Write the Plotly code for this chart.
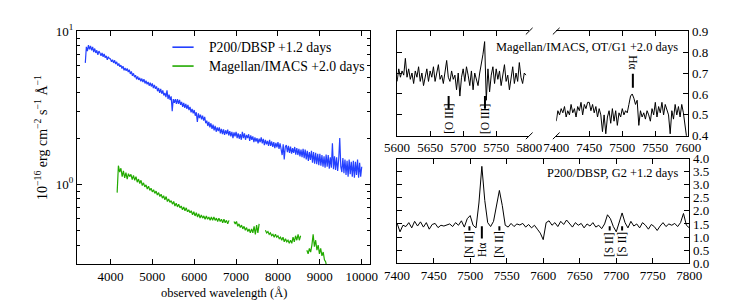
import numpy as np
import plotly.graph_objects as go

W, H = 730, 300

# ---------------- data ----------------
# Left panel: broad-band spectra (x in Angstrom, flux in 1e-16 erg/cm2/s/A)
dbsp_start, dbsp_step = 3400, 25
dbsp_flux = [
    6.2, 7.9, 7.4, 8.1, 7.6, 8.0, 7.5, 7.9,
    7.3, 7.7, 7.2, 7.5, 7.0, 7.4, 7.2, 6.9,
    7.2, 6.8, 7.1, 6.7, 6.9, 6.5, 6.8, 6.6,
    6.6, 6.3, 6.5, 6.2, 6.45, 6.1, 6.3, 5.95,
    6.15, 5.85, 6.0, 5.7, 5.9, 5.55, 5.75, 5.5,
    5.7, 5.4, 5.6, 5.25, 5.45, 5.1, 5.3, 5.0,
    5.15, 4.85, 5.05, 4.8, 4.95, 4.7, 4.9, 4.65,
    4.85, 4.55, 4.75, 4.5, 4.65, 4.4, 4.6, 4.35,
    4.55, 4.25, 4.45, 4.2, 4.35, 4.05, 4.25, 3.95,
    4.2, 3.9, 4.1, 3.8, 3.95, 3.7, 4.1, 3.6,
    3.85, 3.55, 3.75, 3.0, 3.6, 3.4, 3.6, 3.35,
    3.6, 3.35, 3.55, 3.3, 3.45, 3.2, 3.4, 3.15,
    3.35, 3.1, 3.3, 3.05, 3.2, 2.95, 3.1, 2.9,
    3.05, 2.8, 2.95, 2.55, 2.9, 2.7, 2.85, 2.65,
    2.8, 2.6, 2.75, 2.5, 2.6, 2.4, 2.55, 2.35,
    2.5, 2.3, 2.45, 2.25, 2.4, 2.2, 2.35, 2.22,
    2.35, 2.15, 2.3, 2.12, 2.28, 2.1, 2.25, 2.12,
    2.27, 2.08, 2.22, 2.05, 2.2, 2.0, 2.18, 2.05,
    2.2, 2.0, 2.15, 1.98, 2.12, 1.95, 2.2, 2.0,
    2.15, 1.95, 2.1, 2.0, 2.12, 1.92, 2.08, 1.95,
    2.05, 1.88, 2.02, 1.9, 2.0, 1.85, 1.98, 1.88,
    2.02, 1.85, 1.98, 1.8, 1.95, 1.82, 1.92, 1.78,
    1.95, 1.78, 1.9, 1.75, 1.88, 1.72, 1.86, 1.74,
    1.88, 1.7, 1.85, 1.68, 1.55, 1.82, 1.45, 1.75,
    1.8, 1.62, 1.78, 1.6, 1.76, 1.58, 1.72, 1.6,
    1.75, 1.56, 1.72, 1.55, 1.7, 1.52, 1.68, 1.5,
    1.7, 1.48, 1.68, 1.45, 1.65, 1.42, 1.62, 1.44,
    1.65, 1.38, 1.62, 1.36, 1.6, 1.35, 1.58, 1.33,
    1.58, 1.32, 1.55, 1.3, 1.52, 1.28, 1.56, 1.3,
    1.55, 1.26, 1.5, 1.28, 1.85, 1.25, 1.52, 1.24,
    1.5, 1.22, 1.45, 2.0, 1.3, 1.2, 1.48, 1.18,
    1.45, 1.15, 1.42, 1.12, 1.45, 1.16, 1.4, 1.12,
    1.42, 1.1, 1.4, 1.15, 1.45, 1.1, 1.38, 1.12,
    1.3,
]
imacs_start, imacs_step = 4160, 30
imacs_flux = [
    0.88, 1.32, 1.20, 1.27, 1.12, 1.22, 1.10, 1.19, 1.08, 1.17,
    1.12, 1.16, 1.07, 1.14, 1.06, 1.12, 1.03, 1.08, 1.01, 1.06,
    0.98, 1.02, 0.96, 0.99, 0.93, 0.97, 0.91, 0.94, 0.89, 0.92,
    0.87, 0.90, 0.85, 0.88, 0.83, 0.86, 0.81, 0.84, 0.79, 0.83,
    0.77, 0.80, 0.76, 0.78, 0.74, 0.77, 0.72, 0.75, 0.71, 0.74,
    0.70, 0.72, 0.68, 0.71, 0.67, 0.70, 0.66, 0.68, 0.65, 0.67,
    0.63, 0.66, 0.62, 0.65, 0.61, 0.64, 0.60, 0.63, 0.60, 0.62,
    0.59, 0.62, 0.59, 0.61, 0.58, 0.61, 0.58, 0.61, 0.58, 0.60,
    0.57, 0.60, 0.57, 0.59, 0.56, 0.59, 0.56, 0.58, 0.55, 0.58,
    None, None, None, 0.57, 0.55, 0.57, 0.53, 0.55, 0.52, 0.54,
    0.51, 0.53, 0.50, 0.52, 0.49, 0.51, 0.48, 0.51, 0.48, 0.53,
    0.47, 0.54, 0.48, 0.55, None, None, None, None, 0.50, 0.48,
    0.49, 0.47, 0.48, 0.46, 0.47, 0.45, 0.47, 0.45, 0.46, 0.44,
    0.45, 0.43, 0.45, 0.42, 0.44, 0.42, 0.43, 0.41, 0.43, 0.41,
    0.45, 0.42, 0.46, 0.43, 0.47, 0.43, 0.46, None, None, None,
    None, 0.37, 0.35, 0.38, 0.36, 0.40, 0.47, 0.39, 0.43, 0.37,
    0.40, 0.35, 0.38, 0.34, 0.36, 0.32, 0.31, 0.28, 0.25,
]

# Top right: Magellan/IMACS OT/G1 zoom-ins
g1_blue_start, g1_step = 5600, 2.5
g1_blue_flux = [
    0.66, 0.72, 0.68, 0.71, 0.69, 0.77, 0.68, 0.72, 0.67, 0.70,
    0.65, 0.71, 0.68, 0.73, 0.66, 0.70, 0.64, 0.69, 0.72, 0.66,
    0.71, 0.68, 0.73, 0.66, 0.70, 0.74, 0.67, 0.69, 0.65, 0.70,
    0.76, 0.68, 0.66, 0.71, 0.67, 0.69, 0.62, 0.70, 0.59, 0.68,
    0.72, 0.66, 0.73, 0.69, 0.64, 0.71, 0.62, 0.70, 0.67, 0.64,
    0.70, 0.74, 0.79, 0.85, 0.57, 0.72, 0.61, 0.69, 0.73, 0.65,
    0.72, 0.67, 0.71, 0.64, 0.70, 0.74, 0.66, 0.69, 0.62, 0.68,
    0.73, 0.65, 0.70, 0.66, 0.75, 0.68, 0.65, 0.70, 0.69,
]
g1_red_start = 7400
g1_red_flux = [
    0.47, 0.52, 0.50, 0.53, 0.51, 0.54, 0.49, 0.52, 0.50, 0.55,
    0.51, 0.53, 0.49, 0.54, 0.52, 0.56, 0.50, 0.55, 0.53, 0.56,
    0.56, 0.52, 0.55, 0.51, 0.54, 0.49, 0.53, 0.50, 0.42, 0.50,
    0.41, 0.49, 0.52, 0.46, 0.53, 0.47, 0.52, 0.45, 0.51, 0.49,
    0.53, 0.50, 0.52, 0.51, 0.55, 0.59, 0.60, 0.58, 0.55, 0.57,
    0.45, 0.52, 0.49, 0.51, 0.48, 0.52, 0.50, 0.47, 0.53, 0.50,
    0.56, 0.49, 0.54, 0.51, 0.56, 0.50, 0.55, 0.52, 0.50, 0.41,
    0.52, 0.48, 0.55, 0.50, 0.54, 0.49, 0.55, 0.51, 0.46, 0.39,
]

# Bottom right: P200/DBSP G2
g2_start, g2_step = 7400, 4
g2_flux = [
    1.52, 1.20, 1.45, 1.40, 1.55, 1.35, 1.60, 1.42, 1.58, 1.38,
    1.55, 1.30, 1.48, 1.52, 1.36, 1.45, 1.42, 1.46, 1.50, 1.40,
    1.55, 1.45, 1.62, 1.38, 1.70, 1.82, 1.45, 1.35, 2.30, 3.70,
    2.40, 1.55, 1.40, 1.60, 2.20, 2.78, 2.20, 1.45, 1.38, 1.52,
    1.40, 1.50, 1.46, 1.52, 1.38, 1.48, 1.35, 1.45, 1.30, 1.15,
    0.90, 1.55, 1.62, 1.45, 1.55, 1.40, 1.60, 1.48, 1.65, 1.52,
    1.38, 1.55, 1.45, 1.52, 1.35, 1.50, 1.42, 1.55, 1.38, 1.45,
    1.32, 1.50, 1.85, 1.70, 1.40, 1.20, 1.55, 1.92, 1.55, 1.35,
    1.60, 1.42, 1.50, 1.35, 1.55, 1.45, 1.30, 1.48, 1.40, 1.25,
    1.42, 1.55, 1.40, 1.50, 1.45, 1.52, 1.40, 1.55, 1.90, 1.45,
    1.35,
]

# Line identifications
oiii_waves = [5678, 5733]
ha_g1_wave = 7516
nii_waves = [7499, 7540]
ha_g2_wave = 7516
sii_waves = [7691, 7708]

left_xticks = [4000, 5000, 6000, 7000, 8000, 9000, 10000]
legend_names = ["P200/DBSP +1.2 days", "Magellan/IMACS +2.0 days"]
blue, green = "#2440ff", "#22aa00"
FONT = "Liberation Serif"


def grid(start, step, n):
    return start + step * np.arange(n)


def px_x(p):
    return p / W


def px_y(p):
    return 1 - p / H


fig = go.Figure()
fig.add_trace(go.Scatter(x=grid(dbsp_start, dbsp_step, len(dbsp_flux)), y=dbsp_flux,
                         mode="lines", line=dict(color=blue, width=1.2), name=legend_names[0],
                         xaxis="x", yaxis="y"))
fig.add_trace(go.Scatter(x=grid(imacs_start, imacs_step, len(imacs_flux)), y=imacs_flux,
                         mode="lines", line=dict(color=green, width=1.2), name=legend_names[1],
                         xaxis="x", yaxis="y", connectgaps=False))
fig.add_trace(go.Scatter(x=grid(g1_blue_start, g1_step, len(g1_blue_flux)), y=g1_blue_flux,
                         mode="lines", line=dict(color="black", width=1),
                         xaxis="x2", yaxis="y2"))
fig.add_trace(go.Scatter(x=grid(g1_red_start, g1_step, len(g1_red_flux)), y=g1_red_flux,
                         mode="lines", line=dict(color="black", width=1),
                         xaxis="x3", yaxis="y3"))
fig.add_trace(go.Scatter(x=grid(g2_start, g2_step, len(g2_flux)), y=g2_flux,
                         mode="lines", line=dict(color="black", width=1),
                         xaxis="x4", yaxis="y4"))

tickfont = dict(family=FONT, size=13, color="black")
common = dict(showgrid=False, zeroline=False, showline=True, linecolor="black", linewidth=1,
              ticks="inside", tickcolor="black", ticklen=5, tickwidth=1, tickfont=tickfont)

minor_vals = [0.3, 0.4, 0.5, 0.6, 0.7, 0.8, 0.9, 2, 3, 4, 5, 6, 7, 8, 9]

fig.update_layout(
    width=W, height=H, margin=dict(l=0, r=0, t=0, b=0),
    paper_bgcolor="white", plot_bgcolor="white",
    font=dict(family=FONT, size=13, color="black"),
    showlegend=False,
    xaxis=dict(domain=[px_x(58), px_x(362)], range=[3200, 10200], anchor="y",
               tickvals=left_xticks, ticktext=[str(v) for v in left_xticks], mirror="ticks", **common),
    yaxis=dict(domain=[px_y(262), px_y(15)], type="log", range=[np.log10(0.3), 1], anchor="x",
               tickvals=[1, 10], ticktext=["10<sup>0</sup>", "10<sup>1</sup>"], mirror="ticks",
               minor=dict(tickvals=minor_vals, ticks="inside", ticklen=3, tickcolor="black"),
               **common),
    xaxis2=dict(domain=[px_x(390), px_x(527)], range=[5600, 5800], anchor="y2",
                tickvals=[5600, 5650, 5700, 5750, 5800], mirror="ticks", **common),
    yaxis2=dict(domain=[px_y(126), px_y(15)], range=[0.4, 0.9], anchor="x2",
                tickvals=[0.4, 0.5, 0.6, 0.7, 0.8, 0.9], showticklabels=False, mirror=False, **common),
    xaxis3=dict(domain=[px_x(555), px_x(692)], range=[7400, 7600], anchor="y3",
                tickvals=[7400, 7450, 7500, 7550, 7600], mirror="ticks", **common),
    yaxis3=dict(domain=[px_y(126), px_y(15)], range=[0.4, 0.9], anchor="x3", side="right",
                tickvals=[0.4, 0.5, 0.6, 0.7, 0.8, 0.9], tickformat=".1f", mirror=False, **common),
    xaxis4=dict(domain=[px_x(390), px_x(693)], range=[7400, 7800], anchor="y4",
                tickvals=[7400, 7450, 7500, 7550, 7600, 7650, 7700, 7750, 7800], mirror="ticks", **common),
    yaxis4=dict(domain=[px_y(261), px_y(150)], range=[0, 4], anchor="x4", side="right",
                dtick=0.5, tickformat=".1f", mirror="ticks", **common),
)

shapes = []
# break marks on the top-right panel
for (bx, by) in [(527, 15), (527, 126), (555, 15), (555, 126)]:
    shapes.append(dict(type="line", xref="paper", yref="paper",
                       x0=px_x(bx - 3.5), y0=px_y(by + 3.5), x1=px_x(bx + 3.5), y1=px_y(by - 3.5),
                       line=dict(color="black", width=1)))
# legend keys
for (ly, col) in [(32, blue), (52, green)]:
    shapes.append(dict(type="line", xref="paper", yref="paper",
                       x0=px_x(157), x1=px_x(179), y0=px_y(ly), y1=px_y(ly),
                       line=dict(color=col, width=1.6)))
# line markers
for w in oiii_waves:
    shapes.append(dict(type="line", xref="x2", yref="y2", x0=w, x1=w, y0=0.53, y1=0.59,
                       line=dict(color="black", width=2)))
shapes.append(dict(type="line", xref="x3", yref="y3", x0=ha_g1_wave, x1=ha_g1_wave, y0=0.63, y1=0.697,
                   line=dict(color="black", width=2)))
for w in nii_waves + sii_waves:
    shapes.append(dict(type="line", xref="x4", yref="y4", x0=w, x1=w, y0=1.25, y1=1.41,
                       line=dict(color="black", width=2)))
shapes.append(dict(type="line", xref="x4", yref="y4", x0=ha_g2_wave, x1=ha_g2_wave, y0=0.94, y1=1.41,
                   line=dict(color="black", width=2)))
fig.update_layout(shapes=shapes)

ann = []
for (ly, name) in zip([32, 52], legend_names):
    ann.append(dict(x=px_x(193), y=px_y(ly), xref="paper", yref="paper", xanchor="left",
                    yanchor="middle", text=name, showarrow=False,
                    font=dict(family=FONT, size=13.7, color="black")))
lab = dict(showarrow=False, font=dict(family=FONT, size=11.5, color="black"))
for w in oiii_waves:
    ann.append(dict(x=w, y=0.48, xref="x2", yref="y2", text="[O III]", textangle=-90, **lab))
ann.append(dict(x=ha_g1_wave, y=0.752, xref="x3", yref="y3", text="Hα", textangle=90, **lab))
for w in nii_waves:
    ann.append(dict(x=w, y=0.72, xref="x4", yref="y4", text="[N II]", textangle=-90, **lab))
ann.append(dict(x=ha_g2_wave, y=0.5, xref="x4", yref="y4", text="Hα", textangle=-90, **lab))
for w in sii_waves:
    ann.append(dict(x=w, y=0.72, xref="x4", yref="y4", text="[S II]", textangle=-90, **lab))
big = dict(showarrow=False, font=dict(family=FONT, size=12.4, color="black"))
ann.append(dict(x=px_x(683), y=px_y(32), xref="paper", yref="paper", xanchor="right", yanchor="middle",
                text="Magellan/IMACS, OT/G1 +2.0 days", **big))
ann.append(dict(x=px_x(683), y=px_y(165), xref="paper", yref="paper", xanchor="right", yanchor="middle",
                text="P200/DBSP, G2 +1.2 days", **big))
ann.append(dict(x=px_x(210), y=px_y(293), xref="paper", yref="paper", xanchor="center", yanchor="middle",
                text="observed wavelength (Å)", showarrow=False,
                font=dict(family=FONT, size=12.5, color="black")))
ann.append(dict(x=px_x(21), y=px_y(128), xref="paper", yref="paper", xanchor="center", yanchor="middle",
                textangle=-90, showarrow=False, font=dict(family=FONT, size=14, color="black"),
                text="10<sup>−16</sup> erg cm<sup>−2</sup> s<sup>−1</sup> Å<sup>−1</sup>"))
fig.update_layout(annotations=ann)

fig.write_html("out.html")
